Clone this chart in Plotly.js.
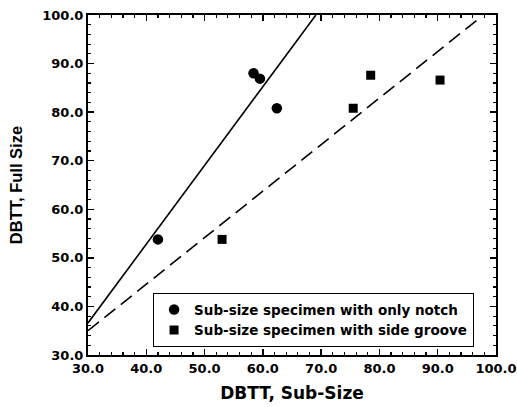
<!DOCTYPE html>
<html>
<head>
<meta charset="utf-8">
<script src="https://cdn.plot.ly/plotly-3.0.1.min.js"></script>
<style>html,body{margin:0;padding:0;background:#fff;}#chart{width:517px;height:407px;}</style>
</head>
<body>
<div id="chart"></div>
<script>
// Data
const notchX = [42.0, 58.4, 59.5, 62.4];
const notchY = [53.8, 88.0, 86.9, 80.8];
const grooveX = [53.0, 75.5, 78.5, 90.4];
const grooveY = [53.8, 80.8, 87.6, 86.6];
const solidFitX = [30.0, 69.1];
const solidFitY = [36.6, 100.0];
const dashFitX = [30.0, 96.7];
const dashFitY = [35.0, 98.9];
const seriesNames = ["Sub-size specimen with only notch", "Sub-size specimen with side groove"];
const xTitle = "DBTT, Sub-Size";
const yTitle = "DBTT, Full Size";

const hFont = "DejaVu Sans, sans-serif";

const traces = [
  {x: solidFitX, y: solidFitY, mode: "lines", line: {color: "#000", width: 1.6}, showlegend: false, hoverinfo: "skip"},
  {x: dashFitX, y: dashFitY, mode: "lines", line: {color: "#000", width: 1.6, dash: "14px,7px"}, showlegend: false, hoverinfo: "skip"},
  {x: notchX, y: notchY, mode: "markers", name: seriesNames[0], marker: {symbol: "circle", size: 10.5, color: "#000"}},
  {x: grooveX, y: grooveY, mode: "markers", name: seriesNames[1], marker: {symbol: "square", size: 9, color: "#000"}}
];

const axisCommon = {
  range: [30, 100], dtick: 10, tick0: 30, tickformat: ".1f",
  ticks: "inside", ticklen: 6, tickwidth: 1.5, tickcolor: "#000",
  showline: true, linewidth: 2, linecolor: "#000", mirror: "allticks",
  showgrid: false, zeroline: false,
  tickfont: {family: hFont, size: 13, color: "#000", weight: "bold"},
  minor: {dtick: 2, ticks: "inside", ticklen: 3, tickwidth: 1.2, tickcolor: "#000", showgrid: false}
};

const layout = {
  width: 517, height: 407,
  margin: {l: 88, r: 21, t: 15, b: 52},
  paper_bgcolor: "#fff", plot_bgcolor: "#fff",
  showlegend: true,
  xaxis: Object.assign({}, axisCommon, {
    title: {text: xTitle, standoff: 13, font: {family: hFont, size: 17, color: "#000", weight: "bold"}}
  }),
  yaxis: Object.assign({}, axisCommon, {
    title: {text: yTitle, standoff: 16, font: {family: "Liberation Sans, Arial, sans-serif", size: 16.5, color: "#000", weight: "bold"}}
  }),
  legend: {
    x: 0.159, y: 0.0235, xanchor: "left", yanchor: "bottom",
    bordercolor: "#000", borderwidth: 1.2, bgcolor: "#fff",
    font: {family: hFont, size: 13.5, color: "#000", weight: "bold"},
    tracegroupgap: 0, itemwidth: 30
  }
};

Plotly.newPlot("chart", traces, layout, {displayModeBar: false, staticPlot: true});
</script>
</body>
</html>
